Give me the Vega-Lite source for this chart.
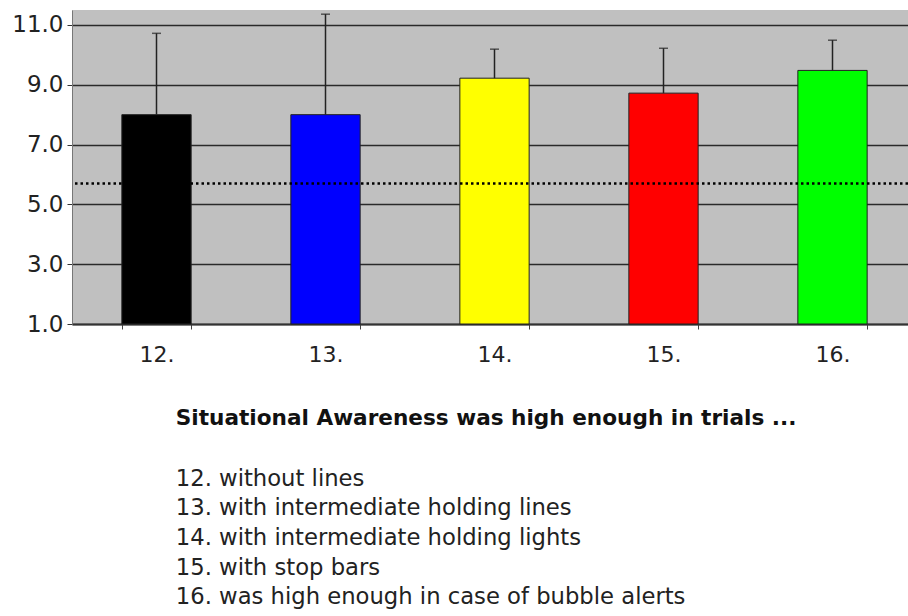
{
  "$schema": "https://vega.github.io/schema/vega-lite/v6.json",
  "autosize": {"type": "none"},
  "width": 836,
  "height": 314,
  "padding": {"left": 72, "top": 10, "right": 0, "bottom": 292},
  "background": "white",
  "config": {"view": {"fill": "#c0c0c0", "stroke": null}, "font": "DejaVu Sans"},
  "title": {
    "text": "Situational Awareness was high enough in trials ...",
    "subtitle": [
      "12. without lines",
      "13. with intermediate holding lines",
      "14. with intermediate holding lights",
      "15. with stop bars",
      "16. was high enough in case of bubble alerts"
    ],
    "orient": "bottom",
    "anchor": "start",
    "dx": 164,
    "offset": 43,
    "font": "DejaVu Sans",
    "fontSize": 21.6,
    "fontWeight": "bold",
    "color": "#111111",
    "subtitleFont": "DejaVu Sans",
    "subtitleFontSize": 22.7,
    "subtitleColor": "#222222",
    "subtitleLineHeight": 29.7,
    "subtitlePadding": 38
  },
  "layer": [
    {
      "data": {"values": [
        {"trial": "12.", "mean": 8.0, "upper": 10.72},
        {"trial": "13.", "mean": 8.0, "upper": 11.36},
        {"trial": "14.", "mean": 9.22, "upper": 10.19},
        {"trial": "15.", "mean": 8.72, "upper": 10.22},
        {"trial": "16.", "mean": 9.48, "upper": 10.49}
      ]},
      "encoding": {
        "x": {
          "field": "trial", "type": "nominal", "sort": null,
          "scale": {"range": [0, 845], "paddingInner": 0.59, "paddingOuter": 0.295},
          "axis": {
            "title": null, "labelAngle": 0, "labelFontSize": 22, "labelColor": "#222222",
            "labelPadding": 15, "tickBand": "extent", "tickSize": 5, "tickColor": "#444444",
            "domainColor": "#333333", "domainWidth": 2, "grid": false
          }
        }
      },
      "layer": [
        {
          "mark": {"type": "bar", "stroke": "#222222", "strokeWidth": 1},
          "encoding": {
            "y": {
              "field": "mean", "type": "quantitative",
              "scale": {"domain": [1, 11.5], "nice": false, "zero": false},
              "axis": {
                "title": null, "values": [1, 3, 5, 7, 9, 11], "format": ".1f",
                "grid": true, "gridColor": "#2a2a2a", "gridWidth": 1.3,
                "tickSize": 5, "tickColor": "#333333", "domainColor": "#777777", "domainWidth": 1,
                "labelFontSize": 23, "labelColor": "#222222", "labelPadding": 4
              }
            },
            "y2": {"datum": 1},
            "color": {
              "field": "trial", "type": "nominal", "sort": null,
              "scale": {"domain": ["12.", "13.", "14.", "15.", "16."], "range": ["#000000", "#0000ff", "#ffff00", "#ff0000", "#00ff00"]},
              "legend": null
            }
          }
        },
        {
          "mark": {"type": "rule", "color": "#222222", "strokeWidth": 1.5},
          "encoding": {
            "y": {"field": "mean", "type": "quantitative"},
            "y2": {"field": "upper"}
          }
        },
        {
          "mark": {"type": "tick", "color": "#222222", "size": 9, "thickness": 1.5},
          "encoding": {
            "y": {"field": "upper", "type": "quantitative"}
          }
        }
      ]
    },
    {
      "data": {"values": [{"threshold": 5.7}]},
      "mark": {"type": "rule", "color": "#000000", "strokeWidth": 2.5, "strokeDash": [2.5, 3]},
      "encoding": {
        "y": {"field": "threshold", "type": "quantitative"}
      }
    }
  ]
}
